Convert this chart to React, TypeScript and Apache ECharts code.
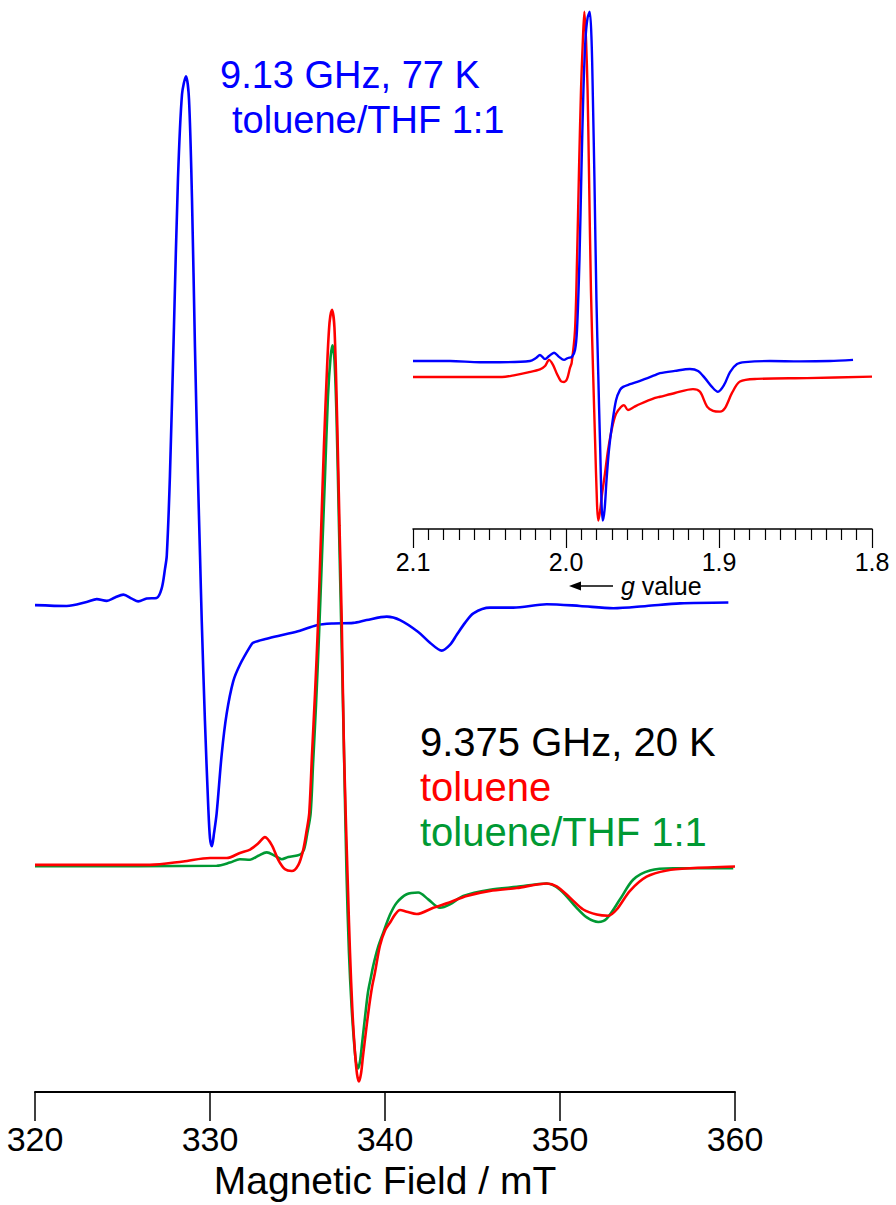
import React, { useEffect, useRef } from "react";
import * as echarts from "echarts";

// ---- Main spectra: [magnetic field / mT, intensity (a.u.)] ----
// 9.13 GHz, 77 K, toluene/THF 1:1 (drawn with a vertical offset)
const blueMain: [number, number][] = [
  [320.0, -0.35], [321.81, -0.5], [322.95, 0.2], [323.53, 0.7], [324.1, 0.4], [324.57, 1.0],
  [325.05, 1.5], [325.53, 0.8], [325.9, 0.3], [326.38, 0.8], [326.95, 0.9], [327.24, 2.6],
  [327.43, 6.1], [327.53, 8.4], [327.71, 22.5], [327.94, 48.8], [328.17, 75.1], [328.4, 90],
  [328.63, 93.2], [328.8, 89.1], [328.97, 71.6], [329.14, 45.3], [329.31, 22.5], [329.43, 8.4],
  [329.53, -3.3], [329.71, -20.8], [329.9, -36], [330.0, -41.6], [330.11, -43], [330.23, -40.7],
  [330.38, -37.2], [330.67, -26.7], [330.95, -19.6], [331.33, -13.8], [331.71, -10.9],
  [332.29, -7.7], [332.47, -7], [333.24, -6.3], [334.19, -5.6], [335.14, -4.9], [336.1, -3.9],
  [337.05, -3.6], [338.19, -3.5], [338.95, -3.0], [340.1, -2.4], [340.86, -3.0], [341.9, -5.1],
  [342.57, -7], [343.24, -8.4], [343.71, -7.4], [344.1, -5.6], [344.57, -3.5], [345.05, -1.8],
  [346.0, -0.8], [347.33, -0.8], [349.24, -0.2], [351.14, -0.5], [353.05, -0.9], [354.95, -0.5],
  [356.86, -0.05], [359.62, 0.1],
];
const BLUE_MAIN_OFFSET = 46.5;

// 9.375 GHz, 20 K, toluene
const redMain: [number, number][] = [
  [320.0, 0.2], [326.57, 0.2], [328.47, 0.8], [330.0, 1.4], [330.95, 1.4], [331.71, 2.3],
  [332.29, 2.9], [332.76, 4.0], [333.14, 5.1], [333.53, 3.7], [333.9, 1.1], [334.29, -0.6],
  [334.67, -0.9], [335.05, 0.2], [335.33, 2.9], [335.53, 6.4], [335.67, 9.3], [335.83, 19.8],
  [336.0, 30.4], [336.17, 42.6], [336.34, 58.4], [336.51, 74.2], [336.69, 88.2], [336.83, 96.1],
  [336.97, 98.4], [337.11, 95.3], [337.26, 79.5], [337.4, 60.2], [337.53, 43], [337.66, 19.8],
  [337.89, -4.7], [338.0, -15.3], [338.14, -25.8], [338.29, -33.2], [338.4, -36.8], [338.51, -38.1],
  [338.63, -36.7], [338.74, -33.7], [338.91, -29.3], [339.09, -24.9], [339.26, -21.4],
  [339.43, -18.8], [339.71, -14.1], [340.0, -11.4], [340.29, -10], [340.57, -8.6], [340.86, -7.8],
  [341.24, -8.1], [341.81, -8.5], [342.76, -7.4], [343.71, -6.4], [344.67, -5.3], [346.0, -4.4],
  [347.53, -3.9], [349.24, -3.1], [349.81, -3.6], [350.57, -5.6], [351.33, -7.7], [352.1, -8.6],
  [352.76, -8.8], [353.24, -7.7], [354.0, -4.4], [354.95, -1.9], [356.1, -0.8], [357.43, -0.4],
  [360.0, -0.1],
];

// 9.375 GHz, 20 K, toluene/THF 1:1
const greenMain: [number, number][] = [
  [320.0, -0.05], [330.38, 0.05], [331.14, 0.6], [331.71, 1.2], [332.29, 1.1], [332.76, 1.8],
  [333.24, 2.4], [333.71, 1.8], [334.1, 1.2], [334.47, 1.6], [335.14, 2.0], [335.37, 2.9],
  [335.56, 5.8], [335.75, 9.3], [335.89, 18.1], [336.06, 28.6], [336.23, 40.9], [336.4, 54.9],
  [336.57, 68.9], [336.74, 83], [336.89, 90], [337.0, 92.1], [337.11, 89.6], [337.23, 79.5],
  [337.37, 60.2], [337.51, 40.9], [337.66, 19.8], [337.8, -1.2], [337.94, -15.3], [338.09, -24.9],
  [338.23, -31.1], [338.34, -34.6], [338.46, -35.8], [338.57, -34.6], [338.69, -31.4],
  [338.86, -26.7], [339.03, -22.3], [339.2, -19.6], [339.33, -17.6], [339.6, -14.4],
  [339.9, -11.8], [340.29, -8.6], [340.67, -6.5], [341.24, -5], [341.9, -4.7], [342.47, -5.9],
  [343.14, -7.4], [343.71, -6.8], [344.47, -5.3], [346.0, -4.2], [347.53, -3.7], [349.24, -3.1],
  [350.0, -4.2], [350.95, -7.4], [351.53, -9.1], [352.19, -9.9], [352.67, -9.3], [353.43, -5.9],
  [354.19, -2.4], [355.14, -0.8], [356.47, -0.4], [359.9, -0.4],
];

// ---- Inset spectra: [g value, intensity (a.u.)] ----
const redInset: [number, number][] = [
  [2.1, 0], [2.0418, 0], [2.0333, 0.5], [2.0248, 1.2], [2.017, 2.0], [2.0137, 2.9], [2.0111, 4.5],
  [2.0085, 3.2], [2.0059, 0.8], [2.0033, -1.1], [2.0013, -1.3], [1.9993, -0.5], [1.9974, 2.4],
  [1.9963, 3.7], [1.9941, 12.4], [1.9928, 30.8], [1.9915, 54.5], [1.9902, 75.5], [1.9891, 87.4],
  [1.988, 96.1], [1.9869, 88.7], [1.9859, 75.5], [1.985, 54.5], [1.9837, 22.9], [1.9822, 0],
  [1.981, -16.6], [1.9797, -33.7], [1.9789, -37.8], [1.9778, -35.5], [1.9765, -31], [1.9745, -25.3],
  [1.9725, -19.2], [1.9699, -13.4], [1.9673, -9.7], [1.9641, -7.9], [1.9621, -7.4], [1.9595, -8.7],
  [1.9556, -7.9], [1.9516, -7.1], [1.9418, -5.5], [1.9386, -5.2], [1.9288, -4.2], [1.917, -3.2],
  [1.9124, -3.9], [1.9078, -7.8], [1.9039, -8.9], [1.8993, -9.1], [1.8961, -8.2], [1.8915, -4.2],
  [1.8863, -1.2], [1.8752, -0.5], [1.8425, -0.3], [1.8, 0.1],
];

const blueInset: [number, number][] = [
  [2.1, 0], [2.0758, 0], [2.0562, -0.3], [2.0431, -0.3], [2.0235, 0], [2.0196, 0.8], [2.017, 1.6],
  [2.0137, 0.5], [2.0111, 1.3], [2.0078, 2.2], [2.0046, 1.1], [2.0013, 0.3], [1.9987, 0.8],
  [1.9961, 1.1], [1.9941, 2.9], [1.9928, 8.2], [1.9912, 26.6], [1.9899, 50.3], [1.9886, 71.3],
  [1.9873, 84.5], [1.9859, 90.3], [1.9845, 91.9], [1.9833, 84.5], [1.9824, 68.7], [1.9814, 47.6],
  [1.9801, 16], [1.9789, -3.7], [1.9778, -20.8], [1.976, -42], [1.9748, -39.2], [1.9735, -31.3],
  [1.9719, -23.4], [1.9699, -16.8], [1.9673, -10.3], [1.9647, -7.6], [1.9627, -6.8], [1.9582, -6.1],
  [1.9516, -5.2], [1.9418, -3.7], [1.9386, -3.2], [1.9288, -2.6], [1.919, -2.1], [1.9137, -2.6],
  [1.9092, -4.5], [1.9046, -6.8], [1.9007, -8.1], [1.8967, -6.3], [1.8928, -2.9], [1.8882, -0.8],
  [1.883, -0.3], [1.8667, 0], [1.8471, -0.1], [1.8275, 0], [1.8124, 0.3],
];
const BLUE_INSET_OFFSET = 4.2;

const FONT = "'Liberation Sans', Arial, Helvetica, sans-serif";
const BLUE = "#0000ff";
const RED = "#ff0000";
const GREEN = "#009933";

function shift(data: [number, number][], dy: number): [number, number][] {
  return data.map(([x, y]) => [x, y + dy]);
}

export default function App() {
  const ref = useRef<HTMLDivElement>(null);

  useEffect(() => {
    if (!ref.current) return;
    const chart = echarts.init(ref.current, undefined, { renderer: "svg" });

    const lineSeries = (
      name: string,
      data: [number, number][],
      color: string,
      idx: number,
      width = 2.6
    ) => ({
      name,
      type: "line",
      xAxisIndex: idx,
      yAxisIndex: idx,
      data,
      showSymbol: false,
      symbol: "none",
      smooth: 0.3,
      lineStyle: { color, width },
      z: 2,
    });

    const label = (text: string, x: number, y: number, fill: string, size: number) => ({
      type: "text",
      x,
      y,
      style: { text, fill, fontSize: size, fontFamily: FONT, verticalAlign: "middle" },
    });

    chart.setOption({
      animation: false,
      backgroundColor: "#ffffff",
      textStyle: { fontFamily: FONT },
      grid: [
        { left: 35, width: 700, top: 18, height: 1083 },
        { left: 413, width: 459, top: 4.6, height: 524.4 },
      ],
      xAxis: [
        {
          type: "value",
          gridIndex: 0,
          min: 320,
          max: 360,
          interval: 10,
          axisLine: { onZero: false, lineStyle: { color: "#000", width: 2 } },
          axisTick: { length: 29, lineStyle: { color: "#000", width: 1.5 } },
          axisLabel: { fontSize: 34, color: "#000", margin: 30, fontFamily: FONT },
          splitLine: { show: false },
          name: "Magnetic Field / mT",
          nameLocation: "middle",
          nameGap: 62,
          nameTextStyle: { fontSize: 39, color: "#000", fontFamily: FONT },
        },
        {
          type: "value",
          gridIndex: 1,
          inverse: true,
          min: 1.8,
          max: 2.1,
          interval: 0.1,
          axisLine: { onZero: false, lineStyle: { color: "#000", width: 1.5 } },
          axisTick: { length: 19, lineStyle: { color: "#000", width: 1.2 } },
          minorTick: {
            show: true,
            splitNumber: 10,
            length: 11,
            lineStyle: { color: "#000", width: 1.2 },
          },
          axisLabel: {
            fontSize: 25,
            color: "#000",
            margin: 20,
            fontFamily: FONT,
            formatter: (v: number) => v.toFixed(1),
          },
          splitLine: { show: false },
          minorSplitLine: { show: false },
        },
      ],
      yAxis: [
        { type: "value", gridIndex: 0, min: -40, max: 150, show: false, splitLine: { show: false } },
        { type: "value", gridIndex: 1, min: -40, max: 98, show: false, splitLine: { show: false } },
      ],
      series: [
        lineSeries("9.13 GHz, 77 K, toluene/THF 1:1", shift(blueMain, BLUE_MAIN_OFFSET), BLUE, 0),
        lineSeries("9.375 GHz, 20 K, toluene/THF 1:1", greenMain, GREEN, 0),
        lineSeries("9.375 GHz, 20 K, toluene", redMain, RED, 0),
        lineSeries("inset toluene", redInset, RED, 1, 2.4),
        lineSeries("inset toluene/THF 1:1", shift(blueInset, BLUE_INSET_OFFSET), BLUE, 1, 2.4),
      ],
      graphic: [
        label("9.13 GHz, 77 K", 220, 75, BLUE, 38),
        label("toluene/THF 1:1", 232, 120, BLUE, 38),
        label("9.375 GHz, 20 K", 420, 742, "#000", 40),
        label("toluene", 420, 787, RED, 40),
        label("toluene/THF 1:1", 420, 832, GREEN, 40),
        // arrow pointing towards higher g
        {
          type: "line",
          shape: { x1: 578, y1: 586, x2: 613, y2: 586 },
          style: { stroke: "#000", lineWidth: 1.5 },
        },
        {
          type: "polygon",
          shape: { points: [[569, 586], [581, 581.5], [581, 590.5]] },
          style: { fill: "#000" },
        },
        {
          type: "text",
          x: 621,
          y: 586,
          style: {
            text: "{i|g} value",
            fill: "#000",
            fontSize: 25,
            fontFamily: FONT,
            verticalAlign: "middle",
            rich: { i: { fontStyle: "italic", fontSize: 25, fontFamily: FONT, fill: "#000" } },
          },
        },
      ],
    });

    return () => chart.dispose();
  }, []);

  return (
    <div
      ref={ref}
      style={{ position: "fixed", left: 0, top: 0, width: 896, height: 1205, background: "#fff" }}
    />
  );
}
